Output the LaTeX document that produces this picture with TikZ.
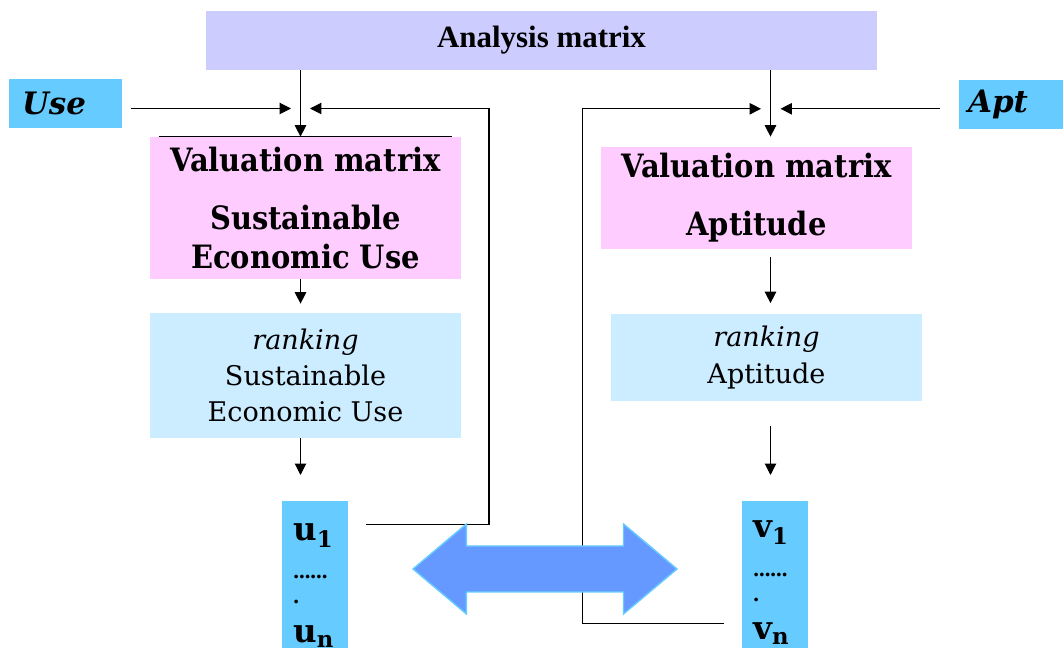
\documentclass[tikz,border=0pt]{standalone}
\usepackage{fontspec}
\setmainfont{DejaVu Serif}
\newfontfamily\timesfont{Liberation Serif}
\newfontfamily\condfont{DejaVu Serif Condensed}
\newcommand{\dotfont}{\timesfont\bfseries\fontsize{13}{13}\selectfont}
\usetikzlibrary{arrows.meta, positioning}

\definecolor{lilac}{HTML}{CCCCFF}
\definecolor{rosa}{HTML}{FFCCFF}
\definecolor{paleblue}{HTML}{CCECFF}
\definecolor{skyblue}{HTML}{66CCFF}
\definecolor{linkblue}{HTML}{6699FF}

\begin{document}
\begin{tikzpicture}[
    x=0.02cm, y=-0.02cm, % 1 unit = 1 pixel, y downwards
    box/.style={
      rectangle,
      inner sep=0pt,
      align=center
    },
    valbox/.style={
      box,
      fill=rosa,
      minimum width=6.22cm,
      font=\condfont\bfseries\fontsize{18.3}{21.9}\selectfont
    },
    rankbox/.style={
      box,
      fill=paleblue,
      minimum width=6.22cm,
      font=\fontsize{15.4}{20.7}\selectfont
    },
    tag/.style={
      box,
      fill=skyblue,
      minimum height=0.98cm,
      inner xsep=0.26cm, % text flush left
      text width=1.74cm,
      align=left,
      font=\bfseries\itshape\fontsize{17.6}{20}\selectfont
    },
    vecbox/.style={
      rectangle,
      fill=skyblue,
      minimum width=1.32cm,
      minimum height=3.2cm
    },
    vectext/.style={
      text width=1.1cm,
      align=left,
      inner sep=0pt,
      font=\bfseries\fontsize{18.5}{19.8}\selectfont
    },
    arrow/.style={
      -{Triangle[length=6.5pt, width=6.5pt]},
      line width=0.6pt
    },
    link/.style={
      fill=linkblue,
      draw=skyblue,
      line width=0.8pt
    }
  ]

  \clip (0,0) rectangle (1063,648);

  % Boxes - top row
  \node[box, fill=lilac, minimum width=13.42cm, minimum height=1.18cm,
        font=\timesfont\bfseries\fontsize{17.6}{20}\selectfont] (amat) at (541.5,40.5) {Analysis matrix};
  \node[tag] (use) at (65.5,103.5) {Use};
  \node[tag, inner xsep=0.18cm, text width=1.9cm] (apt) at (1015.5,104.5) {Apt};

  % Left column
  \node[valbox, minimum height=2.84cm] (vsust) at (305.5,208) {Valuation matrix\\[11pt]Sustainable\\Economic Use};
  \node[rankbox, minimum height=2.5cm] (rsust) at (305.5,375.5) {\textit{ranking}\\Sustainable\\Economic Use};
  \node[vecbox, anchor=north] (ulist) at (315,501) {};
  \node[vectext, anchor=base west] (utext) at (293,541)
    {u\textsubscript{1}\\[1.7pt]{\dotfont ......}\\[-5.6pt]{\dotfont .}\\[2.3pt]u\textsubscript{n}};

  % Right column
  \node[valbox, minimum height=2.04cm] (vapt) at (756.5,198) {Valuation matrix\\[11pt]Aptitude};
  \node[rankbox, minimum height=1.74cm] (rapt) at (766.5,357.5) {\textit{ranking}\\Aptitude};
  \node[vecbox, anchor=north] (vlist) at (775,501) {};
  \node[vectext, anchor=base west] (vtext) at (753,538)
    {v\textsubscript{1}\\[2.2pt]{\dotfont ......}\\[-5.6pt]{\dotfont .}\\[1.8pt]v\textsubscript{n}};

  % Meeting points and corners of the feedback lines
  \coordinate (lmeet) at (300.5,108.5);
  \coordinate (rmeet) at (770.5,108.8);
  \coordinate (ufb) at (489,524.5);
  \coordinate (vfb) at (582.5,623.5);

  % Arrows - left
  \draw[line width=0.6pt] ([xshift=0.18cm]vsust.north west) -- ([xshift=-0.19cm]vsust.north east);
  \draw[arrow] (amat.south -| lmeet) -- (vsust.north -| lmeet);
  \draw[arrow, shorten <=0.18cm, shorten >=0.19cm] (use.east |- lmeet) -- (lmeet);
  \draw[arrow, shorten <=0.36cm, shorten >=0.19cm] (ulist.east |- ufb) -- (ufb) |- (lmeet);
  \draw[arrow, shorten >=0.18cm] (vsust.south -| lmeet) -- (rsust.north -| lmeet);
  \draw[arrow, shorten >=0.52cm] (rsust.south -| lmeet) -- (ulist.north -| lmeet);

  % Arrows - right
  \draw[arrow, shorten >=0.2cm] (amat.south -| rmeet) -- (vapt.north -| rmeet);
  \draw[arrow, shorten <=0.37cm, shorten >=0.2cm] (apt.west |- rmeet) -- (rmeet);
  \draw[arrow, shorten <=0.36cm, shorten >=0.19cm] (vlist.west |- vfb) -- (vfb) |- (rmeet);
  \draw[arrow, shorten <=0.15cm, shorten >=0.21cm] (vapt.south -| rmeet) -- (rapt.north -| rmeet);
  \draw[arrow, shorten <=0.5cm, shorten >=0.52cm] (rapt.south -| rmeet) -- (vlist.north -| rmeet);

  % Double arrow between the two lists
  \filldraw[link] (413,569) -- (466.4,524) -- (466.4,546) -- (623.5,546) -- (623.5,524) -- (677,569)
    -- (623.5,614) -- (623.5,592) -- (466.4,592) -- (466.4,614) -- cycle;

\end{tikzpicture}
\end{document}
